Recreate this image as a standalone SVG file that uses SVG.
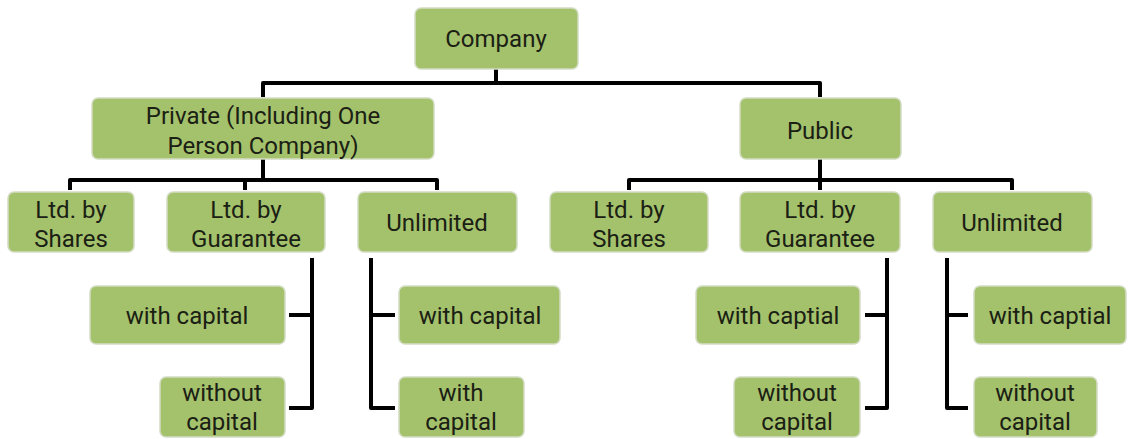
<svg xmlns="http://www.w3.org/2000/svg" width="1129" height="439" viewBox="0 0 1129 439">
<style>
.box{fill:#a4c26c;stroke:#d3dcc4;stroke-width:1.5}
.t{font-family:Roboto,"Liberation Sans",sans-serif;font-size:24px;fill:#1b2014;text-anchor:middle}
.c{fill:none;stroke:#000;stroke-width:4;stroke-linejoin:round}
</style>
<rect width="1129" height="439" fill="#fff"/>
<g id="connectors">
<path class="c" d="M496 68 V83 M263 97 V83 H820 V97"/>
<path class="c" d="M263 158 V180 M70 190 V180 H437 V190 M245 180 V190"/>
<path class="c" d="M820 158 V180 M629 190 V180 H1012 V190 M820 180 V190"/>
<path class="c" d="M312 258 V408 H289 M312 315 H289"/>
<path class="c" d="M371 258 V408 H395 M371 315 H395"/>
<path class="c" d="M887 258 V408 H865 M887 315 H865"/>
<path class="c" d="M947 258 V408 H968 M947 315 H968"/>
</g>
<g id="company"><rect class="box" x="415" y="8" width="163" height="61" rx="6"/><text class="t" x="496" y="47">Company</text></g>
<g id="private"><rect class="box" x="92" y="98" width="342" height="61" rx="6"/><text class="t" x="263" y="124">Private (Including One</text><text class="t" x="263" y="154">Person Company)</text></g>
<g id="public"><rect class="box" x="740" y="98" width="161" height="61" rx="6"/><text class="t" x="820" y="139">Public</text></g>
<g id="priv-shares"><rect class="box" x="8" y="192" width="126" height="60" rx="6"/><text class="t" x="71" y="218">Ltd. by</text><text class="t" x="71" y="247">Shares</text></g>
<g id="priv-guarantee"><rect class="box" x="167" y="192" width="158" height="60" rx="6"/><text class="t" x="246" y="218">Ltd. by</text><text class="t" x="246" y="247">Guarantee</text></g>
<g id="priv-unlimited"><rect class="box" x="358" y="192" width="159" height="60" rx="6"/><text class="t" x="437" y="231">Unlimited</text></g>
<g id="pub-shares"><rect class="box" x="550" y="192" width="158" height="60" rx="6"/><text class="t" x="629" y="218">Ltd. by</text><text class="t" x="629" y="247">Shares</text></g>
<g id="pub-guarantee"><rect class="box" x="740" y="192" width="160" height="60" rx="6"/><text class="t" x="820" y="218">Ltd. by</text><text class="t" x="820" y="247">Guarantee</text></g>
<g id="pub-unlimited"><rect class="box" x="933" y="192" width="159" height="60" rx="6"/><text class="t" x="1012" y="231">Unlimited</text></g>
<g id="pg-with"><rect class="box" x="90" y="286" width="195" height="58" rx="6"/><text class="t" x="187" y="324">with capital</text></g>
<g id="pg-without"><rect class="box" x="160" y="377" width="125" height="60" rx="6"/><text class="t" x="222" y="401">without</text><text class="t" x="222" y="430">capital</text></g>
<g id="pu-with"><rect class="box" x="399" y="286" width="161" height="58" rx="6"/><text class="t" x="480" y="324">with capital</text></g>
<g id="pu-with2"><rect class="box" x="399" y="377" width="125" height="60" rx="6"/><text class="t" x="461" y="401">with</text><text class="t" x="461" y="430">capital</text></g>
<g id="bg-with"><rect class="box" x="696" y="286" width="164" height="58" rx="6"/><text class="t" x="778" y="324">with captial</text></g>
<g id="bg-without"><rect class="box" x="734" y="377" width="126" height="60" rx="6"/><text class="t" x="797" y="401">without</text><text class="t" x="797" y="430">capital</text></g>
<g id="bu-with"><rect class="box" x="974" y="286" width="152" height="58" rx="6"/><text class="t" x="1050" y="324">with captial</text></g>
<g id="bu-without"><rect class="box" x="974" y="377" width="123" height="60" rx="6"/><text class="t" x="1035" y="401">without</text><text class="t" x="1035" y="430">capital</text></g>
</svg>
